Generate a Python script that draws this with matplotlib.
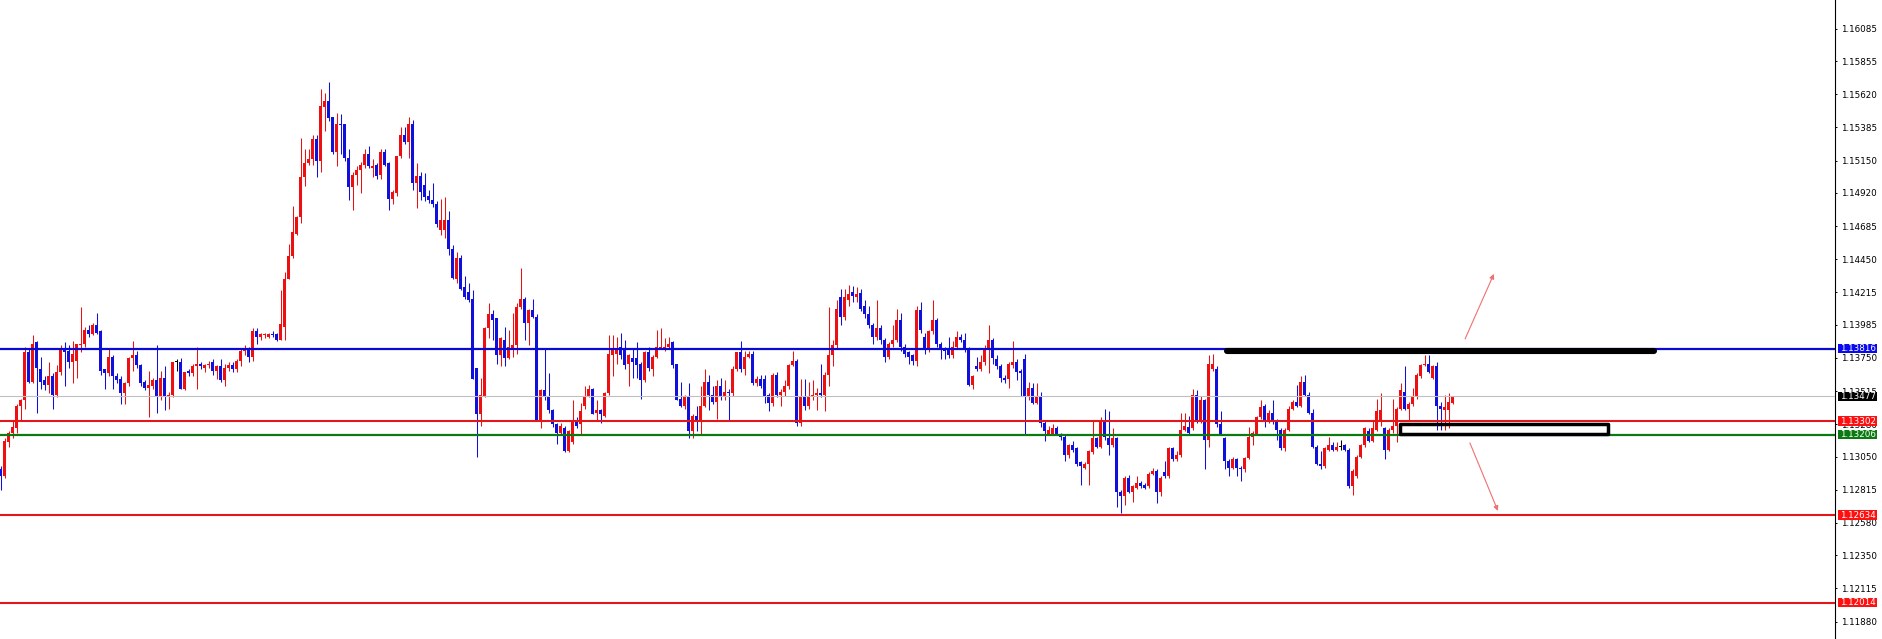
import numpy as np
import matplotlib
matplotlib.use('Agg')
import matplotlib.pyplot as plt
from matplotlib.patches import Rectangle
from matplotlib.transforms import blended_transform_factory

# candle data (one row = 10 candles)
opens = [
    1.1296, 1.1291, 1.1315, 1.1322, 1.1325, 1.1341, 1.1345, 1.1379, 1.1358, 1.1386,
    1.1367, 1.1359, 1.1356, 1.1362, 1.1349, 1.1365, 1.1382, 1.1380, 1.1372, 1.1373,
    1.1384, 1.1385, 1.1395, 1.1392, 1.1398, 1.1394, 1.1367, 1.1364, 1.1376, 1.1362,
    1.1360, 1.1350, 1.1357, 1.1375, 1.1377, 1.1370, 1.1358, 1.1354, 1.1355, 1.1359,
    1.1347, 1.1361, 1.1348, 1.1349, 1.1372, 1.1372, 1.1353, 1.1366, 1.1364, 1.1369,
    1.1371, 1.1368, 1.1370, 1.1372, 1.1366, 1.1369, 1.1359, 1.1368, 1.1370, 1.1367,
    1.1373, 1.1380, 1.1381, 1.1376, 1.1394, 1.1390, 1.1391, 1.1390, 1.1392, 1.1392,
    1.1388, 1.1397, 1.1431, 1.1447, 1.1463, 1.1475, 1.1503, 1.1513, 1.1516, 1.1530,
    1.1515, 1.1553, 1.1557, 1.1546, 1.1521, 1.1541, 1.1541, 1.1517, 1.1496, 1.1505,
    1.1508, 1.1512, 1.1520, 1.1510, 1.1512, 1.1505, 1.1521, 1.1513, 1.1488, 1.1492,
    1.1518, 1.1533, 1.1528, 1.1541, 1.1499, 1.1504, 1.1498, 1.1490, 1.1487, 1.1484,
    1.1466, 1.1466, 1.1473, 1.1452, 1.1431, 1.1446, 1.1425, 1.1422, 1.1417, 1.1368,
    1.1335, 1.1348, 1.1396, 1.1406, 1.1403, 1.1377, 1.1388, 1.1375, 1.1382, 1.1384,
    1.1411, 1.1417, 1.1400, 1.1409, 1.1404, 1.1331, 1.1352, 1.1347, 1.1338, 1.1328,
    1.1322, 1.1325, 1.1309, 1.1315, 1.1330, 1.1328, 1.1341, 1.1348, 1.1353, 1.1336,
    1.1338, 1.1334, 1.1350, 1.1377, 1.1378, 1.1383, 1.1382, 1.1371, 1.1375, 1.1375,
    1.1371, 1.1359, 1.1379, 1.1367, 1.1376, 1.1382, 1.1382, 1.1383, 1.1386, 1.1371,
    1.1346, 1.1341, 1.1347, 1.1323, 1.1334, 1.1330, 1.1341, 1.1358, 1.1349, 1.1344,
    1.1355, 1.1347, 1.1351, 1.1350, 1.1367, 1.1379, 1.1367, 1.1376, 1.1378, 1.1357,
    1.1360, 1.1360, 1.1349, 1.1343, 1.1363, 1.1349, 1.1351, 1.1355, 1.1370, 1.1373,
    1.1329, 1.1347, 1.1341, 1.1348, 1.1349, 1.1350, 1.1349, 1.1363, 1.1377, 1.1384,
    1.1418, 1.1404, 1.1416, 1.1422, 1.1418, 1.1421, 1.1412, 1.1406, 1.1398, 1.1390,
    1.1396, 1.1388, 1.1376, 1.1385, 1.1388, 1.1402, 1.1383, 1.1379, 1.1377, 1.1373,
    1.1409, 1.1390, 1.1381, 1.1394, 1.1402, 1.1385, 1.1382, 1.1382, 1.1377, 1.1383,
    1.1390, 1.1388, 1.1381, 1.1356, 1.1369, 1.1367, 1.1372, 1.1381, 1.1388, 1.1374,
    1.1369, 1.1361, 1.1360, 1.1370, 1.1372, 1.1366, 1.1374, 1.1347, 1.1354, 1.1343,
    1.1348, 1.1329, 1.1321, 1.1321, 1.1325, 1.1321, 1.1319, 1.1306, 1.1313, 1.1311,
    1.1301, 1.1297, 1.1300, 1.1308, 1.1318, 1.1312, 1.1330, 1.1318, 1.1313, 1.1318,
    1.1280, 1.1277, 1.1290, 1.1280, 1.1283, 1.1286, 1.1285, 1.1284, 1.1293, 1.1295,
    1.1280, 1.1294, 1.1291, 1.1311, 1.1303, 1.1306, 1.1324, 1.1326, 1.1325, 1.1349,
    1.1330, 1.1345, 1.1317, 1.1367, 1.1367, 1.1328, 1.1318, 1.1302, 1.1297, 1.1303,
    1.1297, 1.1296, 1.1304, 1.1319, 1.1321, 1.1333, 1.1341, 1.1330, 1.1336, 1.1331,
    1.1324, 1.1311, 1.1324, 1.1339, 1.1344, 1.1341, 1.1358, 1.1349, 1.1336, 1.1312,
    1.1300, 1.1298, 1.1310, 1.1313, 1.1310, 1.1312, 1.1313, 1.1310, 1.1284, 1.1291,
    1.1305, 1.1313, 1.1323, 1.1316, 1.1324, 1.1330, 1.1325, 1.1310, 1.1324, 1.1327,
    1.1339, 1.1351, 1.1339, 1.1342, 1.1347, 1.1362, 1.1370, 1.1371, 1.1361, 1.1369,
    1.1341, 1.1338, 1.1338, 1.1343,
]
highs = [
    1.1298, 1.1318, 1.1323, 1.1330, 1.1342, 1.1346, 1.1383, 1.1381, 1.1391, 1.1387,
    1.1376, 1.1362, 1.1372, 1.1364, 1.1370, 1.1384, 1.1386, 1.1384, 1.1387, 1.1385,
    1.1411, 1.1397, 1.1398, 1.1400, 1.1407, 1.1395, 1.1367, 1.1381, 1.1377, 1.1364,
    1.1362, 1.1358, 1.1376, 1.1387, 1.1380, 1.1371, 1.1359, 1.1366, 1.1361, 1.1384,
    1.1366, 1.1369, 1.1351, 1.1372, 1.1374, 1.1375, 1.1365, 1.1367, 1.1371, 1.1383,
    1.1372, 1.1371, 1.1373, 1.1374, 1.1370, 1.1374, 1.1371, 1.1372, 1.1372, 1.1374,
    1.1381, 1.1384, 1.1383, 1.1396, 1.1396, 1.1393, 1.1393, 1.1393, 1.1394, 1.1393,
    1.1423, 1.1436, 1.1456, 1.1483, 1.1476, 1.1531, 1.1523, 1.1523, 1.1533, 1.1533,
    1.1566, 1.1563, 1.1571, 1.1546, 1.1549, 1.1548, 1.1541, 1.1523, 1.1507, 1.1511,
    1.1514, 1.1523, 1.1525, 1.1516, 1.1513, 1.1523, 1.1523, 1.1514, 1.1494, 1.1518,
    1.1539, 1.1539, 1.1546, 1.1544, 1.1513, 1.1507, 1.1506, 1.1494, 1.1499, 1.1486,
    1.1488, 1.1489, 1.1479, 1.1455, 1.1450, 1.1448, 1.1433, 1.1428, 1.1423, 1.1368,
    1.1361, 1.1397, 1.1414, 1.1409, 1.1403, 1.1390, 1.1397, 1.1395, 1.1407, 1.1414,
    1.1439, 1.1418, 1.1410, 1.1417, 1.1406, 1.1353, 1.1382, 1.1364, 1.1339, 1.1329,
    1.1329, 1.1327, 1.1324, 1.1345, 1.1333, 1.1343, 1.1355, 1.1356, 1.1354, 1.1345,
    1.1339, 1.1351, 1.1391, 1.1391, 1.1390, 1.1393, 1.1388, 1.1378, 1.1382, 1.1386,
    1.1372, 1.1380, 1.1383, 1.1377, 1.1395, 1.1396, 1.1389, 1.1390, 1.1387, 1.1371,
    1.1358, 1.1349, 1.1357, 1.1335, 1.1341, 1.1355, 1.1367, 1.1363, 1.1355, 1.1359,
    1.1361, 1.1359, 1.1353, 1.1369, 1.1379, 1.1387, 1.1380, 1.1380, 1.1380, 1.1362,
    1.1363, 1.1363, 1.1350, 1.1364, 1.1365, 1.1353, 1.1359, 1.1371, 1.1380, 1.1374,
    1.1360, 1.1360, 1.1358, 1.1359, 1.1354, 1.1371, 1.1365, 1.1411, 1.1388, 1.1416,
    1.1424, 1.1424, 1.1427, 1.1426, 1.1425, 1.1424, 1.1416, 1.1412, 1.1400, 1.1416,
    1.1398, 1.1389, 1.1386, 1.1398, 1.1410, 1.1407, 1.1385, 1.1380, 1.1378, 1.1412,
    1.1415, 1.1393, 1.1395, 1.1416, 1.1403, 1.1386, 1.1383, 1.1390, 1.1387, 1.1394,
    1.1392, 1.1393, 1.1383, 1.1363, 1.1376, 1.1377, 1.1384, 1.1398, 1.1389, 1.1377,
    1.1371, 1.1363, 1.1372, 1.1387, 1.1374, 1.1367, 1.1378, 1.1358, 1.1357, 1.1357,
    1.1351, 1.1330, 1.1327, 1.1328, 1.1327, 1.1322, 1.1320, 1.1314, 1.1316, 1.1312,
    1.1302, 1.1301, 1.1310, 1.1330, 1.1319, 1.1333, 1.1339, 1.1337, 1.1325, 1.1319,
    1.1281, 1.1291, 1.1292, 1.1285, 1.1291, 1.1288, 1.1286, 1.1294, 1.1297, 1.1296,
    1.1291, 1.1302, 1.1312, 1.1312, 1.1309, 1.1336, 1.1336, 1.1334, 1.1353, 1.1352,
    1.1348, 1.1346, 1.1377, 1.1378, 1.1369, 1.1337, 1.1319, 1.1303, 1.1305, 1.1304,
    1.1298, 1.1305, 1.1326, 1.1323, 1.1334, 1.1345, 1.1342, 1.1338, 1.1345, 1.1332,
    1.1325, 1.1325, 1.1341, 1.1345, 1.1356, 1.1362, 1.1363, 1.1351, 1.1339, 1.1313,
    1.1309, 1.1312, 1.1319, 1.1315, 1.1315, 1.1317, 1.1314, 1.1311, 1.1296, 1.1306,
    1.1314, 1.1326, 1.1325, 1.1331, 1.1346, 1.1350, 1.1326, 1.1325, 1.1346, 1.1340,
    1.1357, 1.1369, 1.1344, 1.1354, 1.1364, 1.1371, 1.1377, 1.1377, 1.1370, 1.1372,
    1.1344, 1.1349, 1.1350, 1.1348,
]
lows = [
    1.1281, 1.1290, 1.1312, 1.1318, 1.1322, 1.1331, 1.1339, 1.1357, 1.1357, 1.1336,
    1.1353, 1.1352, 1.1350, 1.1339, 1.1347, 1.1363, 1.1355, 1.1368, 1.1357, 1.1361,
    1.1379, 1.1383, 1.1390, 1.1391, 1.1392, 1.1363, 1.1353, 1.1362, 1.1353, 1.1357,
    1.1342, 1.1342, 1.1355, 1.1366, 1.1368, 1.1355, 1.1352, 1.1333, 1.1353, 1.1336,
    1.1345, 1.1338, 1.1339, 1.1347, 1.1366, 1.1353, 1.1352, 1.1362, 1.1362, 1.1353,
    1.1367, 1.1365, 1.1368, 1.1363, 1.1360, 1.1358, 1.1355, 1.1366, 1.1365, 1.1365,
    1.1369, 1.1377, 1.1372, 1.1373, 1.1385, 1.1388, 1.1389, 1.1389, 1.1390, 1.1387,
    1.1388, 1.1388, 1.1431, 1.1446, 1.1462, 1.1471, 1.1497, 1.1512, 1.1512, 1.1503,
    1.1507, 1.1536, 1.1543, 1.1520, 1.1511, 1.1520, 1.1515, 1.1487, 1.1480, 1.1498,
    1.1492, 1.1510, 1.1510, 1.1503, 1.1502, 1.1502, 1.1511, 1.1480, 1.1484, 1.1490,
    1.1517, 1.1527, 1.1517, 1.1494, 1.1481, 1.1487, 1.1486, 1.1485, 1.1482, 1.1468,
    1.1462, 1.1460, 1.1448, 1.1431, 1.1428, 1.1423, 1.1417, 1.1415, 1.1360, 1.1305,
    1.1327, 1.1347, 1.1389, 1.1388, 1.1371, 1.1369, 1.1369, 1.1374, 1.1376, 1.1378,
    1.1410, 1.1388, 1.1384, 1.1403, 1.1331, 1.1325, 1.1345, 1.1336, 1.1326, 1.1314,
    1.1320, 1.1308, 1.1308, 1.1314, 1.1325, 1.1321, 1.1339, 1.1347, 1.1335, 1.1330,
    1.1329, 1.1333, 1.1349, 1.1362, 1.1371, 1.1374, 1.1367, 1.1355, 1.1361, 1.1361,
    1.1346, 1.1358, 1.1366, 1.1362, 1.1375, 1.1381, 1.1380, 1.1381, 1.1368, 1.1345,
    1.1340, 1.1339, 1.1318, 1.1318, 1.1323, 1.1320, 1.1340, 1.1338, 1.1342, 1.1332,
    1.1345, 1.1345, 1.1330, 1.1348, 1.1366, 1.1365, 1.1363, 1.1375, 1.1356, 1.1355,
    1.1354, 1.1343, 1.1337, 1.1341, 1.1347, 1.1341, 1.1348, 1.1353, 1.1369, 1.1327,
    1.1327, 1.1338, 1.1339, 1.1345, 1.1338, 1.1347, 1.1337, 1.1355, 1.1369, 1.1382,
    1.1398, 1.1402, 1.1412, 1.1415, 1.1415, 1.1408, 1.1403, 1.1396, 1.1385, 1.1388,
    1.1385, 1.1372, 1.1374, 1.1383, 1.1386, 1.1380, 1.1376, 1.1371, 1.1370, 1.1369,
    1.1393, 1.1378, 1.1379, 1.1392, 1.1383, 1.1374, 1.1374, 1.1375, 1.1375, 1.1382,
    1.1386, 1.1379, 1.1355, 1.1353, 1.1366, 1.1366, 1.1370, 1.1364, 1.1371, 1.1367,
    1.1358, 1.1357, 1.1354, 1.1368, 1.1359, 1.1348, 1.1320, 1.1345, 1.1342, 1.1342,
    1.1326, 1.1316, 1.1320, 1.1320, 1.1320, 1.1317, 1.1302, 1.1304, 1.1308, 1.1298,
    1.1285, 1.1296, 1.1285, 1.1307, 1.1311, 1.1311, 1.1317, 1.1306, 1.1312, 1.1269,
    1.1265, 1.1271, 1.1279, 1.1273, 1.1282, 1.1283, 1.1282, 1.1283, 1.1292, 1.1272,
    1.1277, 1.1290, 1.1290, 1.1302, 1.1302, 1.1305, 1.1323, 1.1321, 1.1324, 1.1329,
    1.1329, 1.1296, 1.1312, 1.1366, 1.1326, 1.1320, 1.1296, 1.1291, 1.1296, 1.1291,
    1.1288, 1.1294, 1.1303, 1.1313, 1.1320, 1.1332, 1.1326, 1.1329, 1.1328, 1.1317,
    1.1310, 1.1309, 1.1323, 1.1338, 1.1340, 1.1340, 1.1348, 1.1335, 1.1311, 1.1299,
    1.1296, 1.1297, 1.1309, 1.1309, 1.1309, 1.1310, 1.1309, 1.1283, 1.1278, 1.1290,
    1.1304, 1.1312, 1.1315, 1.1315, 1.1323, 1.1327, 1.1303, 1.1309, 1.1322, 1.1315,
    1.1338, 1.1338, 1.1330, 1.1341, 1.1346, 1.1361, 1.1369, 1.1364, 1.1360, 1.1324,
    1.1324, 1.1324, 1.1325, 1.1342,
]
closes = [
    1.1291, 1.1316, 1.1322, 1.1326, 1.1341, 1.1345, 1.1379, 1.1358, 1.1385, 1.1368,
    1.1358, 1.1356, 1.1362, 1.1349, 1.1365, 1.1382, 1.1379, 1.1372, 1.1378, 1.1385,
    1.1385, 1.1395, 1.1392, 1.1398, 1.1393, 1.1366, 1.1364, 1.1376, 1.1362, 1.1359,
    1.1350, 1.1357, 1.1375, 1.1377, 1.1370, 1.1357, 1.1354, 1.1356, 1.1359, 1.1347,
    1.1361, 1.1348, 1.1349, 1.1372, 1.1372, 1.1353, 1.1365, 1.1364, 1.1369, 1.1371,
    1.1369, 1.1370, 1.1371, 1.1366, 1.1369, 1.1359, 1.1368, 1.1370, 1.1367, 1.1373,
    1.1380, 1.1381, 1.1376, 1.1394, 1.1390, 1.1392, 1.1392, 1.1392, 1.1391, 1.1388,
    1.1399, 1.1431, 1.1447, 1.1464, 1.1475, 1.1503, 1.1513, 1.1516, 1.1530, 1.1515,
    1.1554, 1.1557, 1.1545, 1.1521, 1.1541, 1.1540, 1.1517, 1.1496, 1.1505, 1.1508,
    1.1512, 1.1520, 1.1511, 1.1511, 1.1504, 1.1521, 1.1512, 1.1488, 1.1493, 1.1518,
    1.1533, 1.1528, 1.1541, 1.1499, 1.1504, 1.1493, 1.1489, 1.1487, 1.1484, 1.1470,
    1.1473, 1.1473, 1.1452, 1.1432, 1.1446, 1.1424, 1.1418, 1.1416, 1.1360, 1.1335,
    1.1349, 1.1396, 1.1406, 1.1402, 1.1377, 1.1389, 1.1375, 1.1383, 1.1384, 1.1411,
    1.1417, 1.1400, 1.1409, 1.1404, 1.1331, 1.1352, 1.1347, 1.1338, 1.1328, 1.1322,
    1.1327, 1.1309, 1.1323, 1.1330, 1.1327, 1.1337, 1.1348, 1.1353, 1.1335, 1.1338,
    1.1335, 1.1350, 1.1378, 1.1381, 1.1382, 1.1377, 1.1370, 1.1377, 1.1372, 1.1370,
    1.1359, 1.1379, 1.1368, 1.1376, 1.1383, 1.1383, 1.1383, 1.1385, 1.1370, 1.1345,
    1.1341, 1.1347, 1.1323, 1.1334, 1.1330, 1.1341, 1.1358, 1.1349, 1.1344, 1.1355,
    1.1347, 1.1351, 1.1350, 1.1367, 1.1379, 1.1367, 1.1376, 1.1378, 1.1357, 1.1360,
    1.1355, 1.1348, 1.1343, 1.1363, 1.1349, 1.1351, 1.1355, 1.1370, 1.1373, 1.1329,
    1.1347, 1.1341, 1.1348, 1.1349, 1.1350, 1.1349, 1.1363, 1.1377, 1.1384, 1.1410,
    1.1404, 1.1418, 1.1420, 1.1419, 1.1420, 1.1410, 1.1406, 1.1398, 1.1390, 1.1396,
    1.1388, 1.1376, 1.1385, 1.1388, 1.1402, 1.1383, 1.1378, 1.1376, 1.1373, 1.1409,
    1.1395, 1.1381, 1.1394, 1.1402, 1.1385, 1.1381, 1.1380, 1.1377, 1.1383, 1.1390,
    1.1388, 1.1381, 1.1356, 1.1362, 1.1367, 1.1372, 1.1381, 1.1388, 1.1375, 1.1369,
    1.1361, 1.1359, 1.1371, 1.1372, 1.1365, 1.1364, 1.1347, 1.1354, 1.1343, 1.1348,
    1.1329, 1.1323, 1.1324, 1.1325, 1.1321, 1.1319, 1.1306, 1.1313, 1.1310, 1.1300,
    1.1298, 1.1300, 1.1309, 1.1318, 1.1312, 1.1330, 1.1319, 1.1313, 1.1318, 1.1280,
    1.1277, 1.1290, 1.1280, 1.1284, 1.1286, 1.1284, 1.1283, 1.1293, 1.1295, 1.1280,
    1.1290, 1.1291, 1.1311, 1.1303, 1.1306, 1.1324, 1.1327, 1.1322, 1.1349, 1.1330,
    1.1345, 1.1317, 1.1371, 1.1371, 1.1328, 1.1321, 1.1302, 1.1297, 1.1303, 1.1297,
    1.1296, 1.1304, 1.1319, 1.1322, 1.1333, 1.1340, 1.1331, 1.1336, 1.1331, 1.1324,
    1.1311, 1.1324, 1.1339, 1.1344, 1.1341, 1.1358, 1.1349, 1.1336, 1.1312, 1.1300,
    1.1298, 1.1311, 1.1313, 1.1310, 1.1312, 1.1312, 1.1310, 1.1284, 1.1295, 1.1305,
    1.1313, 1.1325, 1.1316, 1.1325, 1.1337, 1.1338, 1.1310, 1.1324, 1.1327, 1.1339,
    1.1352, 1.1339, 1.1342, 1.1347, 1.1363, 1.1370, 1.1371, 1.1365, 1.1369, 1.1341,
    1.1339, 1.1340, 1.1344, 1.1348,
]

# price scale labels on the right
tick_values = [1.16085, 1.15855, 1.15620, 1.15385, 1.15150, 1.14920, 1.14685,
               1.14450, 1.14215, 1.13985, 1.13750, 1.13515, 1.13280, 1.13050,
               1.12815, 1.12580, 1.12350, 1.12115, 1.11880]

# horizontal levels and their price tags
level_values = [1.13816, 1.13477, 1.13302, 1.13206, 1.12634, 1.12014]
level_colors = ['#0a0ad2', '#c0c0c0', '#e3161b', '#0b7a12', '#e3161b', '#e3161b']
level_tags = ['#0a0aee', '#000000', '#ff1010', '#0b7a12', '#ff1010', '#ff1010']
level_widths = [1.6, 0.8, 1.5, 1.6, 1.5, 1.5]

# hand drawn objects (bar index / price)
resist_price = 1.13800
resist_span = (306.6, 413.3)
zone_low, zone_high = 1.13209, 1.13279
zone_span = (349.8, 401.8)
up_arrow = ((366.1, 1.13885), (373.3, 1.14346))
down_arrow = ((367.3, 1.13147), (374.3, 1.12665))

W, H = 1882, 639
plot_w = 1835
fig = plt.figure(figsize=(W / 100, H / 100), dpi=100)
fig.patch.set_facecolor('white')
ax = fig.add_axes([0, 0, plot_w / W, 1])
ax.set_facecolor('white')

ax.set_xlim(-0.175, -0.175 + plot_w / 4)
ax.set_ylim(1.11756, 1.16289)

o = np.array(opens)
h = np.array(highs)
l = np.array(lows)
c = np.array(closes)
x = np.arange(len(c))

up_col, down_col = '#ee1010', '#1010dd'
cols = np.where(c > o, up_col, np.where(c < o, down_col, '#000000'))

ax.vlines(x, l, h, colors=cols, linewidth=0.75, zorder=2)
bottom = np.minimum(o, c)
height = np.maximum(np.abs(c - o), 0.00008)
ax.bar(x, height, width=0.75, bottom=bottom, color=cols, linewidth=0, zorder=2)

for val, col, lw in zip(level_values, level_colors, level_widths):
    ax.axhline(val, color=col, linewidth=lw, zorder=3)

# trend objects
ax.plot(resist_span, [resist_price, resist_price], color='black', linewidth=4.4,
        solid_capstyle='round', zorder=4)
ax.add_patch(Rectangle((zone_span[0], zone_low), zone_span[1] - zone_span[0],
                       zone_high - zone_low, fill=False, edgecolor='black',
                       linewidth=2.5, joinstyle='round', zorder=4))
for start, end in (up_arrow, down_arrow):
    ax.annotate('', xy=end, xytext=start,
                arrowprops=dict(arrowstyle='-|>', color='#f07070', lw=0.8,
                                mutation_scale=7, shrinkA=0, shrinkB=0),
                zorder=4)

# axes look like the terminal: only the right price scale
for side in ['left', 'top', 'bottom']:
    ax.spines[side].set_visible(False)
ax.spines['right'].set_color('black')
ax.spines['right'].set_linewidth(0.8)
ax.set_xticks([])
ax.yaxis.tick_right()
ax.set_yticks(tick_values)
ax.set_yticklabels(['%.5f' % v for v in tick_values])
ax.tick_params(axis='y', length=1.6, width=0.7, pad=2.5, labelsize=6.3,
               colors='black')

# coloured price tags on the scale
trans = blended_transform_factory(ax.transAxes, ax.transData)
tag_h = 9.6 / 14097
for val, col in zip(level_values, level_tags):
    ax.add_patch(Rectangle((1838 / plot_w, val - tag_h / 2), 39 / plot_w, tag_h,
                           transform=trans, facecolor=col, edgecolor='none',
                           clip_on=False, zorder=6))
    ax.text(1840.5 / plot_w, val, '%.5f' % val, transform=trans, color='white',
            fontsize=6.3, va='center', ha='left', clip_on=False, zorder=7)

fig.savefig('out.png', dpi=100, facecolor='white')
